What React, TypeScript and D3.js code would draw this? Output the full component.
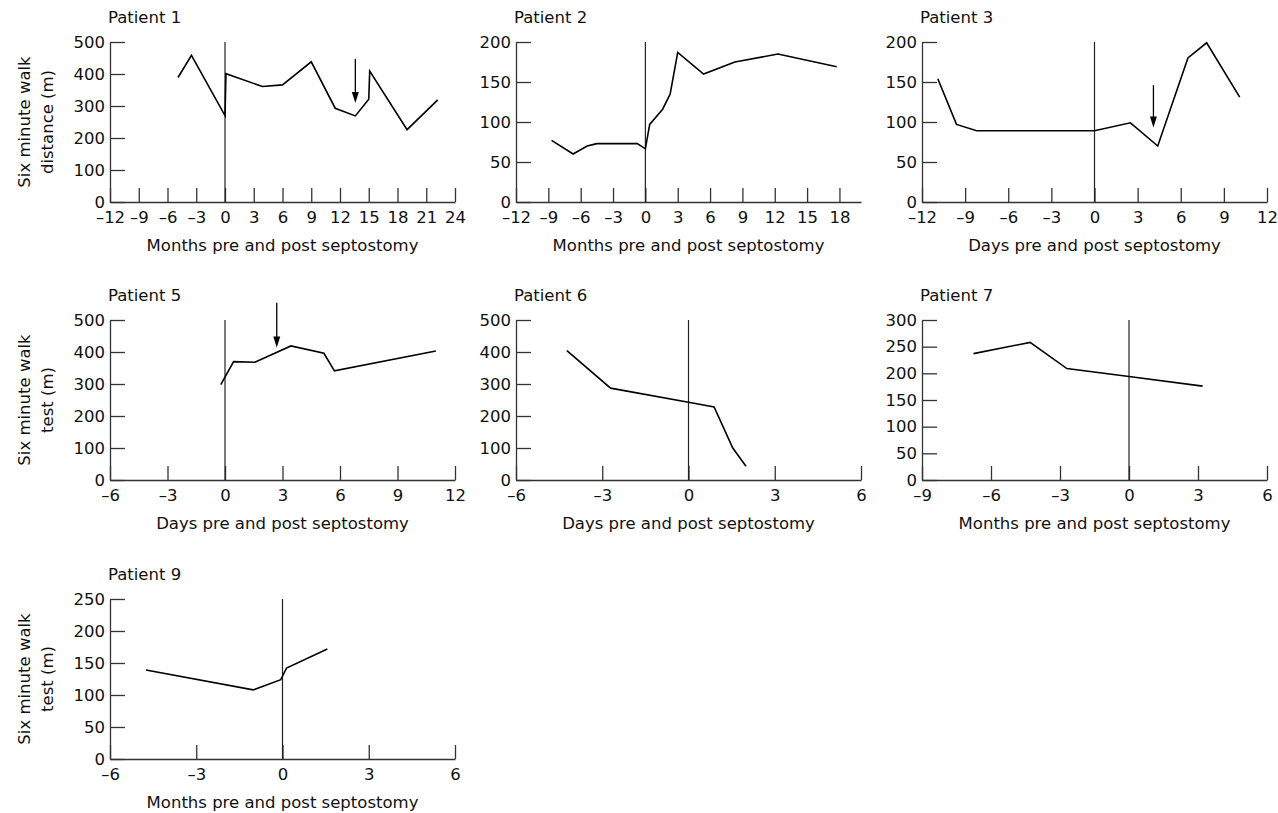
import React, { useEffect, useRef } from "react";
import * as d3 from "d3";

// values (x = time relative to septostomy, y = walk distance in m)
const p1Months = [-4.9, -3.5, 0, 0.1, 3.9, 6.0, 9.0, 11.5, 13.6, 15.0, 15.1, 19.0, 22.2];
const p1Walk = [389, 458, 270, 401, 361, 366, 438, 293, 269, 321, 409, 226, 319];

const p2Months = [-8.7, -6.7, -5.4, -4.5, -0.75, 0, 0.4, 1.6, 2.3, 3.0, 5.4, 8.3, 12.3, 17.75];
const p2Walk = [77, 60, 70, 73, 73, 66.5, 97, 116, 135, 187, 160, 175, 185, 169];

const p3Days = [-10.9, -9.6, -8.2, 0, 2.5, 4.4, 6.5, 7.8, 10.1];
const p3Walk = [154, 97, 89, 89, 99, 70, 180, 199, 131];

const p5Days = [-0.22, 0.45, 1.56, 3.44, 5.16, 5.71, 11.0];
const p5Walk = [298, 370, 368, 419, 396, 341, 403];

const p6Days = [-4.23, -2.71, 0, 0.89, 1.54, 2.0];
const p6Walk = [404, 287, 243, 228, 100, 43];

const p7Months = [-6.76, -4.3, -2.7, 0, 3.2];
const p7Walk = [237, 258, 209, 194, 176];

const p9Months = [-4.75, -1.02, -0.06, 0.14, 1.56];
const p9Walk = [139, 108, 124, 142, 172];

// arrows: [x, from value, to value]
const p1Arrow = [13.6, 447, 309];
const p3Arrow = [4.1, 146, 93];
const p5Arrow = [2.7, 554, 414];

const monthsLabel = "Months pre and post septostomy";
const daysLabel = "Days pre and post septostomy";
const walkDistance = ["Six minute walk", "distance (m)"];
const walkTest = ["Six minute walk", "test (m)"];

const W = 345;
const H = 160;
const FONT = "DejaVu Sans";
const FS = 16.5;

const panels = [
  { title: "Patient 1", left: 110, top: 42, xs: p1Months, ys: p1Walk, xDomain: [-12, 24], xTicks: d3.range(-12, 25, 3), yMax: 500, yStep: 100, xLabel: monthsLabel, yLabel: walkDistance, arrow: p1Arrow },
  { title: "Patient 2", left: 516, top: 42, xs: p2Months, ys: p2Walk, xDomain: [-12, 20], xTicks: d3.range(-12, 19, 3), yMax: 200, yStep: 50, xLabel: monthsLabel, yLabel: null, arrow: null },
  { title: "Patient 3", left: 922, top: 42, xs: p3Days, ys: p3Walk, xDomain: [-12, 12], xTicks: d3.range(-12, 13, 3), yMax: 200, yStep: 50, xLabel: daysLabel, yLabel: null, arrow: p3Arrow },
  { title: "Patient 5", left: 110, top: 320, xs: p5Days, ys: p5Walk, xDomain: [-6, 12], xTicks: d3.range(-6, 13, 3), yMax: 500, yStep: 100, xLabel: daysLabel, yLabel: walkTest, arrow: p5Arrow },
  { title: "Patient 6", left: 516, top: 320, xs: p6Days, ys: p6Walk, xDomain: [-6, 6], xTicks: d3.range(-6, 7, 3), yMax: 500, yStep: 100, xLabel: daysLabel, yLabel: null, arrow: null },
  { title: "Patient 7", left: 922, top: 320, xs: p7Months, ys: p7Walk, xDomain: [-9, 6], xTicks: d3.range(-9, 7, 3), yMax: 300, yStep: 50, xLabel: monthsLabel, yLabel: null, arrow: null },
  { title: "Patient 9", left: 110, top: 599, xs: p9Months, ys: p9Walk, xDomain: [-6, 6], xTicks: d3.range(-6, 7, 3), yMax: 250, yStep: 50, xLabel: monthsLabel, yLabel: walkTest, arrow: null },
];

const fmt = (d) => (d < 0 ? "\u2013" + Math.abs(d) : String(d));

const App = () => {
  const svgRef = useRef(null);

  useEffect(() => {
    document.body.style.margin = "0";
    const svg = d3.select(svgRef.current);
    svg.selectAll("*").remove();

    panels.forEach((p) => {
      const g = svg.append("g").attr("transform", `translate(${p.left},${p.top})`);
      const x = d3.scaleLinear().domain(p.xDomain).range([0, W]);
      const y = d3.scaleLinear().domain([0, p.yMax]).range([H, 0]);

      const yAxis = d3
        .axisLeft(y)
        .tickValues(d3.range(0, p.yMax + 1, p.yStep))
        .tickSizeInner(-15)
        .tickSizeOuter(0)
        .tickPadding(5)
        .tickFormat(fmt);
      const yg = g.append("g").call(yAxis);

      const xAxis = d3
        .axisBottom(x)
        .tickValues(p.xTicks)
        .tickSizeInner(-14)
        .tickSizeOuter(0)
        .tickPadding(9)
        .tickFormat(fmt);
      const xg = g.append("g").attr("transform", `translate(0,${H})`).call(xAxis);

      [yg, xg].forEach((a) => {
        a.attr("font-family", FONT).attr("font-size", FS);
        a.selectAll("path, line").attr("stroke", "#333").attr("stroke-width", 1.3);
        a.selectAll("text").attr("fill", "#111");
      });

      // septostomy reference line
      g.append("line")
        .attr("x1", x(0))
        .attr("x2", x(0))
        .attr("y1", 0)
        .attr("y2", H)
        .attr("stroke", "#222")
        .attr("stroke-width", 1.2);

      const line = d3
        .line()
        .x((d) => x(d[0]))
        .y((d) => y(d[1]));
      g.append("path")
        .datum(p.xs.map((v, i) => [v, p.ys[i]]))
        .attr("d", line)
        .attr("fill", "none")
        .attr("stroke", "#000")
        .attr("stroke-width", 1.6)
        .attr("stroke-linejoin", "miter");

      if (p.arrow) {
        const ax = x(p.arrow[0]);
        const y0 = y(p.arrow[1]);
        const y1 = y(p.arrow[2]);
        g.append("line")
          .attr("x1", ax)
          .attr("x2", ax)
          .attr("y1", y0)
          .attr("y2", y1 - 8)
          .attr("stroke", "#000")
          .attr("stroke-width", 1.3);
        g.append("path")
          .attr("d", `M${ax - 3.5},${y1 - 11}L${ax + 3.5},${y1 - 11}L${ax},${y1}Z`)
          .attr("fill", "#000");
      }

      g.append("text")
        .attr("x", -2)
        .attr("y", -19)
        .attr("font-family", FONT)
        .attr("font-size", FS)
        .attr("fill", "#111")
        .text(p.title);

      g.append("text")
        .attr("x", W / 2)
        .attr("y", H + 49)
        .attr("text-anchor", "middle")
        .attr("font-family", FONT)
        .attr("font-size", FS)
        .attr("fill", "#111")
        .text(p.xLabel);

      if (p.yLabel) {
        p.yLabel.forEach((t, i) => {
          g.append("text")
            .attr("transform", `translate(${-80 + i * 23},${H / 2}) rotate(-90)`)
            .attr("text-anchor", "middle")
            .attr("font-family", FONT)
            .attr("font-size", FS)
            .attr("fill", "#111")
            .text(t);
        });
      }
    });
  }, []);

  return <svg ref={svgRef} width={1278} height={813} style={{ display: "block", background: "#fff" }}></svg>;
};

export default App;
